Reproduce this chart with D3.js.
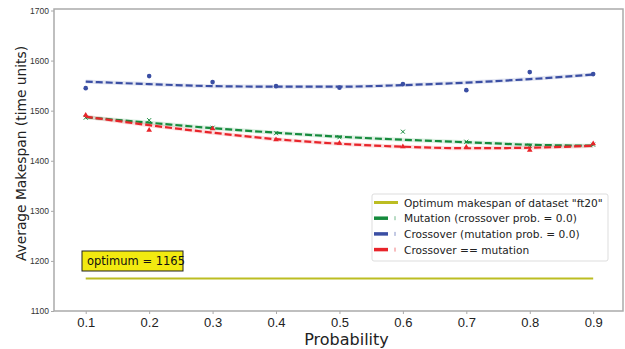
<!DOCTYPE html>
<html>
<head>
<meta charset="utf-8">
<script src="https://cdn.jsdelivr.net/npm/d3@7"></script>
<style>
  body { margin: 0; background: #fff; }
  svg { font-family: "DejaVu Sans", sans-serif; }
</style>
</head>
<body>
<div id="chart"></div>
<script>
// probabilities on the x axis
const probs = [0.1, 0.2, 0.3, 0.4, 0.5, 0.6, 0.7, 0.8, 0.9];

// measured averages (scatter markers)
const mutationPts  = [1486, 1481, 1466, 1455, 1447, 1458, 1438, 1430, 1432];
const crossoverPts = [1545, 1569, 1557, 1549, 1546, 1553, 1541, 1577, 1573];
const equalPts     = [1491, 1461, 1464, 1442, 1435, 1428, 1427, 1421, 1434];

// fitted curves (dashed lines)
const mutationFit  = [1487, 1476, 1465, 1456, 1448, 1442, 1437, 1432, 1430];
const crossoverFit = [1558, 1553, 1549, 1548, 1548, 1551, 1556, 1563, 1572];
const equalFit     = [1488, 1471, 1456, 1443, 1434, 1428, 1425, 1426, 1430];

const optimum = 1165;
const yTicks = [1100, 1200, 1300, 1400, 1500, 1600, 1700];
const xTicks = [0.1, 0.2, 0.3, 0.4, 0.5, 0.6, 0.7, 0.8, 0.9];

const legendLabels = [
  'Optimum makespan of dataset "ft20"',
  'Mutation (crossover prob. = 0.0)',
  'Crossover (mutation prob. = 0.0)',
  'Crossover == mutation'
];

const W = 625, H = 349;
const plotLeft = 54, plotRight = 623, plotTop = 9, plotBottom = 311;

const svg = d3.select('#chart').append('svg')
  .attr('width', W)
  .attr('height', H);

const x = d3.scaleLinear().domain([0.05, 0.947]).range([plotLeft, plotRight]);
const y = d3.scaleLinear().domain([1100, 1700]).range([plotBottom, 10.5]);

// frame
svg.append('rect')
  .attr('x', plotLeft).attr('y', plotTop)
  .attr('width', plotRight - plotLeft).attr('height', plotBottom - plotTop)
  .attr('fill', 'none')
  .attr('stroke', '#aaa')
  .attr('stroke-width', 1.5);

// y axis
const yAxis = svg.append('g')
  .attr('transform', 'translate(' + plotLeft + ',0)')
  .call(d3.axisLeft(y).tickValues(yTicks).tickSize(3).tickPadding(2).tickFormat(d3.format('d')));
yAxis.select('.domain').remove();
yAxis.selectAll('line').attr('stroke', '#aaa');
yAxis.selectAll('text').attr('font-size', 8.5).attr('fill', '#333');

// x axis
const xAxis = svg.append('g')
  .attr('transform', 'translate(0,' + plotBottom + ')')
  .call(d3.axisBottom(x).tickValues(xTicks).tickSize(3).tickPadding(4).tickFormat(d3.format('.1f')));
xAxis.select('.domain').remove();
xAxis.selectAll('line').attr('stroke', '#aaa');
xAxis.selectAll('text').attr('font-size', 13).attr('fill', '#222');

// axis labels
svg.append('text')
  .attr('transform', 'translate(26,153.5) rotate(-90)')
  .attr('text-anchor', 'middle')
  .attr('font-size', 13.8)
  .attr('fill', '#222')
  .text('Average Makespan (time units)');

svg.append('text')
  .attr('x', 346.5).attr('y', 345)
  .attr('text-anchor', 'middle')
  .attr('font-size', 16)
  .attr('fill', '#222')
  .text('Probability');

// optimum line
svg.append('line')
  .attr('x1', x(0.1)).attr('x2', x(0.9))
  .attr('y1', y(optimum)).attr('y2', y(optimum))
  .attr('stroke', '#bcbd22')
  .attr('stroke-width', 2);

const series = [
  { pts: mutationPts, fit: mutationFit, color: '#158a3c', marker: 'x' },
  { pts: crossoverPts, fit: crossoverFit, color: '#3a4ea3', marker: 'o' },
  { pts: equalPts, fit: equalFit, color: '#e8242a', marker: '^' }
];

const line = d3.line()
  .x((d, i) => x(probs[i]))
  .y(d => y(d))
  .curve(d3.curveMonotoneX);

series.forEach(s => {
  // light halo under the dashed fit
  svg.append('path')
    .datum(s.fit)
    .attr('d', line)
    .attr('fill', 'none')
    .attr('stroke', s.color)
    .attr('stroke-opacity', 0.15)
    .attr('stroke-width', 4);
  svg.append('path')
    .datum(s.fit)
    .attr('d', line)
    .attr('fill', 'none')
    .attr('stroke', s.color)
    .attr('stroke-width', 2.2)
    .attr('stroke-dasharray', '7,3');

  const g = svg.append('g');
  s.pts.forEach((v, i) => {
    const cx = x(probs[i]), cy = y(v);
    if (s.marker === 'o') {
      g.append('circle').attr('cx', cx).attr('cy', cy).attr('r', 2.3).attr('fill', s.color);
    } else if (s.marker === 'x') {
      g.append('path')
        .attr('d', `M${cx - 2},${cy - 2}L${cx + 2},${cy + 2}M${cx - 2},${cy + 2}L${cx + 2},${cy - 2}`)
        .attr('stroke', s.color).attr('stroke-width', 1);
    } else {
      g.append('path')
        .attr('d', d3.symbol().type(d3.symbolTriangle).size(14)())
        .attr('transform', `translate(${cx},${cy})`)
        .attr('fill', s.color);
    }
  });
});

// annotation box
const ann = svg.append('g').attr('transform', 'translate(82,251)');
ann.append('rect')
  .attr('width', 101).attr('height', 20)
  .attr('fill', '#f2ea10')
  .attr('stroke', '#222')
  .attr('stroke-width', 1);
ann.append('text')
  .attr('x', 5).attr('y', 14)
  .attr('font-size', 11.5)
  .attr('fill', '#111')
  .text('optimum = 1165');

// legend
const lg = svg.append('g').attr('transform', 'translate(372,194)');
lg.append('rect')
  .attr('width', 236).attr('height', 67)
  .attr('rx', 2)
  .attr('fill', '#fff')
  .attr('fill-opacity', 0.85)
  .attr('stroke', '#ddd');
const legendColors = ['#bcbd22', '#158a3c', '#3a4ea3', '#e8242a'];
legendLabels.forEach((lab, i) => {
  const ly = 8.5 + i * 15.7;
  if (i === 0) {
    lg.append('line').attr('x1', 2).attr('x2', 26).attr('y1', ly).attr('y2', ly)
      .attr('stroke', legendColors[i]).attr('stroke-width', 3);
  } else {
    lg.append('line').attr('x1', 2).attr('x2', 16).attr('y1', ly).attr('y2', ly)
      .attr('stroke', legendColors[i]).attr('stroke-width', 3.5);
    lg.append('line').attr('x1', 23).attr('x2', 23).attr('y1', ly - 2).attr('y2', ly + 2)
      .attr('stroke', legendColors[i]).attr('stroke-opacity', 0.6).attr('stroke-width', 1);
  }
  lg.append('text')
    .attr('x', 32).attr('y', ly + 4)
    .attr('font-size', 10.6)
    .attr('fill', '#222')
    .text(lab);
});
</script>
</body>
</html>
